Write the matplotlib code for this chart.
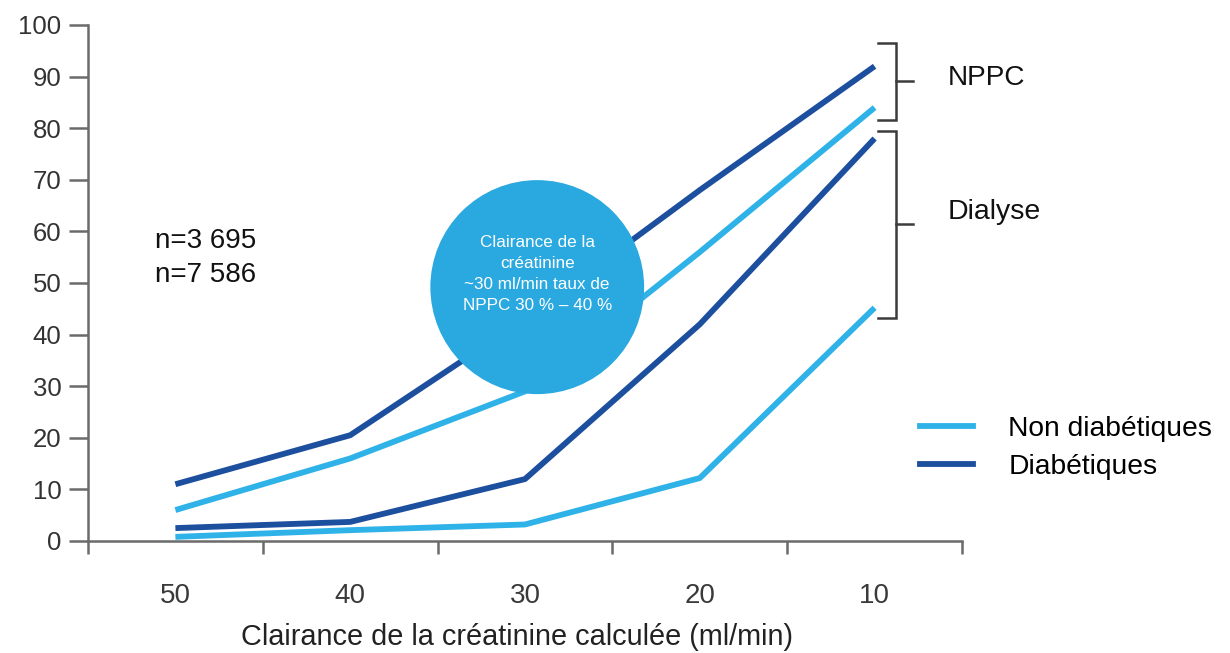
import matplotlib
matplotlib.use("Agg")
import matplotlib.pyplot as plt
from matplotlib.patches import Ellipse
from matplotlib.lines import Line2D

plt.rcParams['font.family'] = ['Liberation Sans', 'DejaVu Sans']

categories = ['50', '40', '30', '20', '10']
diab_nppc = [11, 20.5, 43, 68, 92]
non_diab_nppc = [6, 16, 29, 56, 84]
diab_dialyse = [2.5, 3.7, 12, 42, 78]
non_diab_dialyse = [0.8, 2.1, 3.2, 12.2, 45.2]

light = '#2fb2e8'
dark = '#1d4f9f'
axis_grey = '#6b6b6b'

fig = plt.figure(figsize=(12.3, 6.53), dpi=100)
ax = fig.add_axes([88 / 1230, 112 / 653, 874 / 1230, 516 / 653])

x = list(range(len(categories)))
for vals, col in [(non_diab_dialyse, light), (diab_dialyse, dark),
                  (non_diab_nppc, light), (diab_nppc, dark)]:
    ax.plot(x, vals, color=col, lw=4.2, solid_capstyle='butt', zorder=2)

ax.set_xlim(-0.5, 4.5)
ax.set_ylim(0, 100)

for s in ['top', 'right']:
    ax.spines[s].set_visible(False)
for s in ['left', 'bottom']:
    ax.spines[s].set_color(axis_grey)
    ax.spines[s].set_linewidth(1.8)

ax.set_yticks(range(0, 101, 10))
ax.tick_params(axis='y', direction='out', length=14, width=1.8, color=axis_grey,
               pad=5, labelsize=18.5, labelcolor='#333333')
ax.set_xticks(x)
ax.set_xticklabels(categories)
ax.set_xticks([i - 0.5 for i in range(len(categories) + 1)], minor=True)
ax.tick_params(axis='x', which='major', length=0, pad=30, labelsize=20,
               labelcolor='#3a3a3a')
ax.tick_params(axis='x', which='minor', direction='out', length=9, width=1.8,
               color=axis_grey)
ax.set_xlabel('Clairance de la créatinine calculée (ml/min)', fontsize=20.8,
              color='#222222')
ax.xaxis.set_label_coords(0.491, -0.159)

# bulle centrale (rayon en pixels converti en unités de données)
r_px = 107
rx = r_px / 175.0
ry = r_px / 5.16
bubble = Ellipse((2.07, 49.2), 2 * rx, 2 * ry, facecolor='#2aa8e0',
                 edgecolor='none', zorder=3)
ax.add_patch(bubble)
ax.text(2.07, 51.8, 'Clairance de la\ncréatinine\n~30 ml/min taux de\nNPPC 30 % – 40 %',
        ha='center', va='center', color='white', fontsize=12.3, linespacing=1.5,
        zorder=4)

# accolades NPPC / Dialyse
br_col = '#3c3c3c'
def bracket(y0, y1, ymid, xv=4.125):
    ax.plot([4.02, xv, xv, 4.02], [y0, y0, y1, y1], color=br_col, lw=1.8,
            clip_on=False, solid_joinstyle='miter')
    ax.plot([xv, 4.22], [ymid, ymid], color=br_col, lw=1.8, clip_on=False)

bracket(96.5, 81.6, 89.2)
bracket(79.4, 43.2, 61.5)

fig.text(948 / 1230, 1 - 78 / 653, 'NPPC', fontsize=20.2, va='center', ha='left',
         color='#111111')
fig.text(948 / 1230, 1 - 212 / 653, 'Dialyse', fontsize=20.5, va='center', ha='left',
         color='#111111')

fig.text(155 / 1230, 1 - 241 / 653, 'n=3 695', fontsize=20, va='center', color='#111111')
fig.text(155 / 1230, 1 - 275 / 653, 'n=7 586', fontsize=20, va='center', color='#111111')

handles = [Line2D([], [], color=light, lw=4.2), Line2D([], [], color=dark, lw=4.2)]
fig.legend(handles, ['Non diabétiques', 'Diabétiques'], loc='upper left',
           bbox_to_anchor=(920 / 1230, 1 - 416 / 653), frameon=False, fontsize=20.3,
           handlelength=1.88, handletextpad=1.25, labelspacing=0.43, borderpad=0,
           borderaxespad=0)

fig.savefig('out.png', dpi=100)
